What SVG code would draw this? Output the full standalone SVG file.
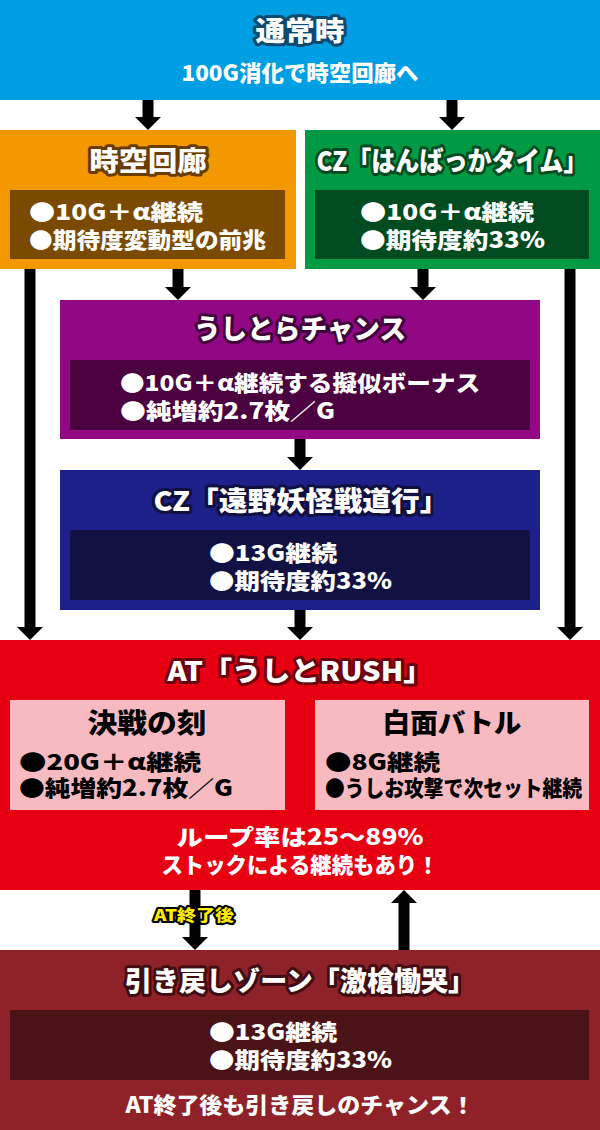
<svg xmlns="http://www.w3.org/2000/svg" width="600" height="1130" viewBox="0 0 600 1130">
<style>
.t{font-family:"Noto Sans CJK JP","Noto Sans CJK SC",sans-serif;font-weight:900}
.ttl{font-size:27px;fill:#fff;stroke-width:6;stroke-linejoin:round;paint-order:stroke;text-anchor:middle}
.li{font-size:22px;fill:#fff}
.bk{fill:#000}
.mid{text-anchor:middle}
.conn line{stroke:#000;stroke-width:11}
</style>
<defs>
<marker id="ah" markerUnits="userSpaceOnUse" markerWidth="13" markerHeight="26" refX="0" refY="13" orient="auto" viewBox="0 0 13 26">
<path d="M0,0 L13,13 L0,26 z" fill="#000"/>
</marker>
</defs>
<rect width="600" height="1130" fill="#fff"/>

<g id="connectors" class="conn">
<line x1="148" y1="100" x2="148" y2="117" marker-end="url(#ah)"/>
<line x1="452" y1="100" x2="452" y2="117" marker-end="url(#ah)"/>
<line x1="30" y1="269" x2="30" y2="627" marker-end="url(#ah)"/>
<line x1="178" y1="269" x2="178" y2="287" marker-end="url(#ah)"/>
<line x1="423" y1="269" x2="423" y2="287" marker-end="url(#ah)"/>
<line x1="570" y1="269" x2="570" y2="627" marker-end="url(#ah)"/>
<line x1="300" y1="439" x2="300" y2="457" marker-end="url(#ah)"/>
<line x1="300" y1="610" x2="300" y2="627" marker-end="url(#ah)"/>
<line x1="285" y1="733" x2="302" y2="733" marker-end="url(#ah)"/>
<line x1="315" y1="781" x2="298" y2="781" marker-end="url(#ah)"/>
<line x1="195" y1="890" x2="195" y2="937" marker-end="url(#ah)"/>
<line x1="404" y1="950" x2="404" y2="903" marker-end="url(#ah)"/>
<text class="t" x="194" y="921" font-size="16" fill="#ffec00" stroke="#000" stroke-width="4" stroke-linejoin="round" paint-order="stroke" text-anchor="middle" textLength="80" lengthAdjust="spacingAndGlyphs">AT終了後</text>
</g>

<g id="normal">
<rect x="0" y="0" width="600" height="100" fill="#009fe3"/>
<text class="t ttl" x="300" y="41" stroke="#0d4a70" textLength="89" lengthAdjust="spacingAndGlyphs">通常時</text>
<text class="t li mid" x="300" y="81" textLength="237" lengthAdjust="spacingAndGlyphs">100G消化で時空回廊へ</text>
</g>

<g id="jikuu">
<rect x="0" y="130" width="296" height="139" fill="#f39800"/>
<rect x="10" y="190" width="275" height="69" fill="#7a4a00"/>
<text class="t ttl" x="148" y="171" stroke="#6b3c00" textLength="117" lengthAdjust="spacingAndGlyphs">時空回廊</text>
<text class="t li" x="29" y="220" textLength="174" lengthAdjust="spacingAndGlyphs">●10G&#xFF0B;α継続</text>
<text class="t li" x="29" y="248" textLength="237" lengthAdjust="spacingAndGlyphs">●期待度変動型の前兆</text>
</g>

<g id="hanbakka">
<rect x="305" y="130" width="295" height="139" fill="#009944"/>
<rect x="315" y="190" width="274" height="69" fill="#004b20"/>
<text class="t ttl" x="452" y="171" stroke="#004a22" font-size="25" textLength="271" lengthAdjust="spacingAndGlyphs">CZ「はんばっかタイム」</text>
<text class="t li" x="360" y="220" textLength="174" lengthAdjust="spacingAndGlyphs">●10G&#xFF0B;α継続</text>
<text class="t li" x="360" y="248" textLength="185" lengthAdjust="spacingAndGlyphs">●期待度約33%</text>
</g>

<g id="ushitora">
<rect x="60" y="300" width="480" height="139" fill="#920783"/>
<rect x="70" y="360" width="460" height="70" fill="#4b0040"/>
<text class="t ttl" x="300" y="339" stroke="#40003a" textLength="212" lengthAdjust="spacingAndGlyphs">うしとらチャンス</text>
<text class="t li" x="120" y="391" textLength="360" lengthAdjust="spacingAndGlyphs">●10G&#xFF0B;α継続する擬似ボーナス</text>
<text class="t li" x="120" y="419" textLength="215" lengthAdjust="spacingAndGlyphs">●純増約2.7枚&#xFF0F;G</text>
</g>

<g id="tono">
<rect x="60" y="470" width="480" height="140" fill="#1d2088"/>
<rect x="70" y="530" width="460" height="70" fill="#111144"/>
<text class="t ttl" x="301" y="511" stroke="#101040" textLength="295" lengthAdjust="spacingAndGlyphs">CZ「遠野妖怪戦道行」</text>
<text class="t li" x="209" y="561" textLength="128" lengthAdjust="spacingAndGlyphs">●13G継続</text>
<text class="t li" x="209" y="589" textLength="183" lengthAdjust="spacingAndGlyphs">●期待度約33%</text>
</g>

<g id="at">
<rect x="0" y="640" width="600" height="250" fill="#e60012"/>
<text class="t ttl" x="300" y="681" stroke="#6b0010" textLength="265" lengthAdjust="spacingAndGlyphs">AT「うしとRUSH」</text>
<text class="t li mid" x="300" y="845" textLength="247" lengthAdjust="spacingAndGlyphs">ループ率は25&#xFF5E;89%</text>
<text class="t li mid" x="300" y="873" textLength="277" lengthAdjust="spacingAndGlyphs">ストックによる継続もあり&#xFF01;</text>
</g>

<g id="kessen">
<rect x="10" y="700" width="275" height="110" fill="#f7bac1"/>
<text class="t bk mid" x="147" y="733" font-size="27" textLength="119" lengthAdjust="spacingAndGlyphs">決戦の刻</text>
<text class="t li bk" x="19" y="770" textLength="182" lengthAdjust="spacingAndGlyphs">●20G&#xFF0B;α継続</text>
<text class="t li bk" x="19" y="796" textLength="214" lengthAdjust="spacingAndGlyphs">●純増約2.7枚&#xFF0F;G</text>
</g>

<g id="hakumen">
<rect x="315" y="700" width="274" height="110" fill="#f7bac1"/>
<text class="t bk mid" x="452" y="733" font-size="27" textLength="139" lengthAdjust="spacingAndGlyphs">白面バトル</text>
<text class="t li bk" x="325" y="770" textLength="115" lengthAdjust="spacingAndGlyphs">●8G継続</text>
<text class="t li bk" x="325" y="796" font-size="20" textLength="257" lengthAdjust="spacingAndGlyphs">●うしお攻撃で次セット継続</text>
</g>

<g id="hikimodoshi">
<rect x="0" y="950" width="600" height="180" fill="#8f2229"/>
<rect x="10" y="1010" width="579" height="70" fill="#4a1317"/>
<text class="t ttl" x="300" y="991" stroke="#3f0d12" textLength="350" lengthAdjust="spacingAndGlyphs">引き戻しゾーン「激槍慟哭」</text>
<text class="t li" x="209" y="1040" textLength="128" lengthAdjust="spacingAndGlyphs">●13G継続</text>
<text class="t li" x="209" y="1068" textLength="183" lengthAdjust="spacingAndGlyphs">●期待度約33%</text>
<text class="t li mid" x="300" y="1113" textLength="349" lengthAdjust="spacingAndGlyphs">AT終了後も引き戻しのチャンス&#xFF01;</text>
</g>
</svg>
